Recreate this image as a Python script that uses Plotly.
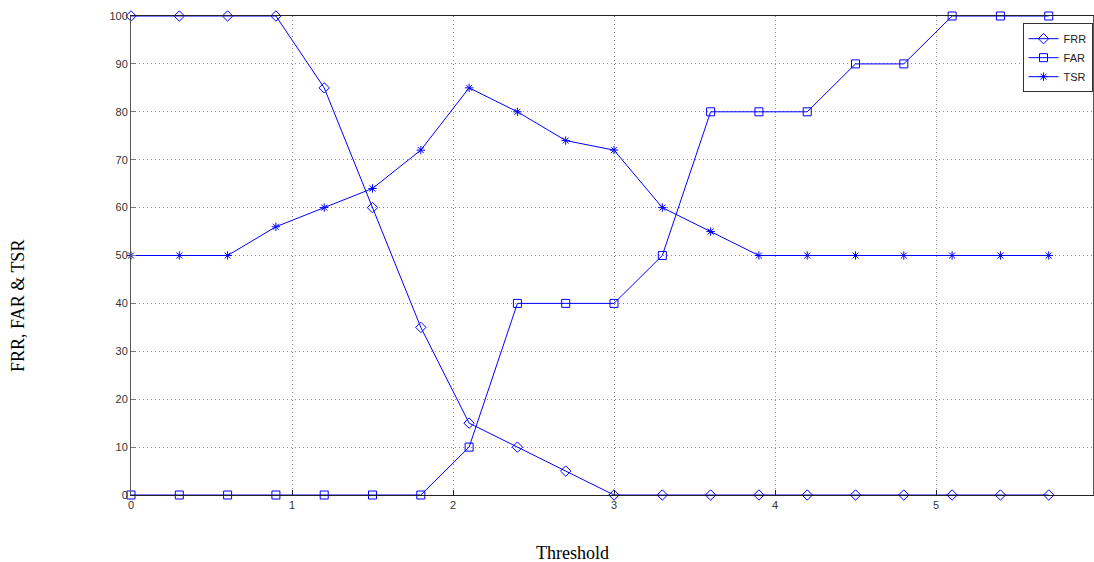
import plotly.graph_objects as go

threshold = [0, 0.3, 0.6, 0.9, 1.2, 1.5, 1.8, 2.1, 2.4, 2.7, 3.0, 3.3, 3.6, 3.9, 4.2, 4.5, 4.8, 5.1, 5.4, 5.7]
frr = [100, 100, 100, 100, 85, 60, 35, 15, 10, 5, 0, 0, 0, 0, 0, 0, 0, 0, 0, 0]
far = [0, 0, 0, 0, 0, 0, 0, 10, 40, 40, 40, 50, 80, 80, 80, 90, 90, 100, 100, 100]
tsr = [50, 50, 50, 56, 60, 64, 72, 85, 80, 74, 72, 60, 55, 50, 50, 50, 50, 50, 50, 50]

x_ticks = [0, 1, 2, 3, 4, 5]
y_ticks = [0, 10, 20, 30, 40, 50, 60, 70, 80, 90, 100]

blue = "#0000ff"
fig = go.Figure()
for name, vals, sym, size in [("FRR", frr, "diamond-open", 8),
                              ("FAR", far, "square-open", 8),
                              ("TSR", tsr, "asterisk-open", 7)]:
    fig.add_trace(go.Scatter(
        x=threshold, y=vals, name=name, mode="lines+markers",
        line=dict(color=blue, width=1),
        marker=dict(symbol=sym, size=size, color=blue, line=dict(color=blue, width=1)),
        cliponaxis=False,
    ))

axis_font = dict(family="Liberation Sans, Arial, sans-serif", size=11, color="#333333")
L, T, W, H = 131, 16, 1094, 562
plot_w = W - L - 1
plot_h = 479
fig.update_layout(
    width=W, height=H,
    margin=dict(l=L, r=1, t=T, b=H - T - plot_h),
    plot_bgcolor="white", paper_bgcolor="white",
    showlegend=True,
    legend=dict(x=0.9995, y=0.985, xanchor="right", yanchor="top",
                bordercolor="#333333", borderwidth=1, bgcolor="white",
                font=dict(family="Liberation Sans, Arial, sans-serif", size=11, color="#222222"),
                tracegroupgap=0, entrywidth=38, entrywidthmode="pixels"),
    xaxis=dict(range=[0, 5.975], tickvals=x_ticks, ticktext=[str(v) for v in x_ticks],
               showgrid=True, gridcolor="#888888", griddash="1px,3px", gridwidth=1,
               ticks="inside", ticklen=5, tickcolor="#222222",
               showline=True, linecolor="#222222", linewidth=1, mirror=True,
               zeroline=False, tickfont=axis_font),
    yaxis=dict(range=[0, 100], tickvals=y_ticks, ticktext=[str(v) for v in y_ticks],
               showgrid=True, gridcolor="#888888", griddash="1px,3px", gridwidth=1,
               ticks="inside", ticklen=5, tickcolor="#777777",
               showline=True, linecolor="#555555", linewidth=1, mirror=True,
               zeroline=False, tickfont=axis_font),
)
fig.add_annotation(text="Threshold", xref="paper", yref="paper",
                   x=(572 - L) / plot_w, y=-(553 - 495) / plot_h,
                   xanchor="center", yanchor="middle", showarrow=False,
                   font=dict(family="Liberation Serif, Times New Roman, serif", size=18, color="black"))
fig.add_annotation(text="FRR, FAR &amp; TSR", xref="paper", yref="paper",
                   x=-(L - 18) / plot_w, y=(495 - 306) / plot_h, textangle=-90,
                   xanchor="center", yanchor="middle", showarrow=False,
                   font=dict(family="Liberation Serif, Times New Roman, serif", size=18, color="black"))

fig.write_html("out.html", config={"displayModeBar": False},
               post_script="document.body.style.margin='0';document.body.style.overflow='hidden';")
